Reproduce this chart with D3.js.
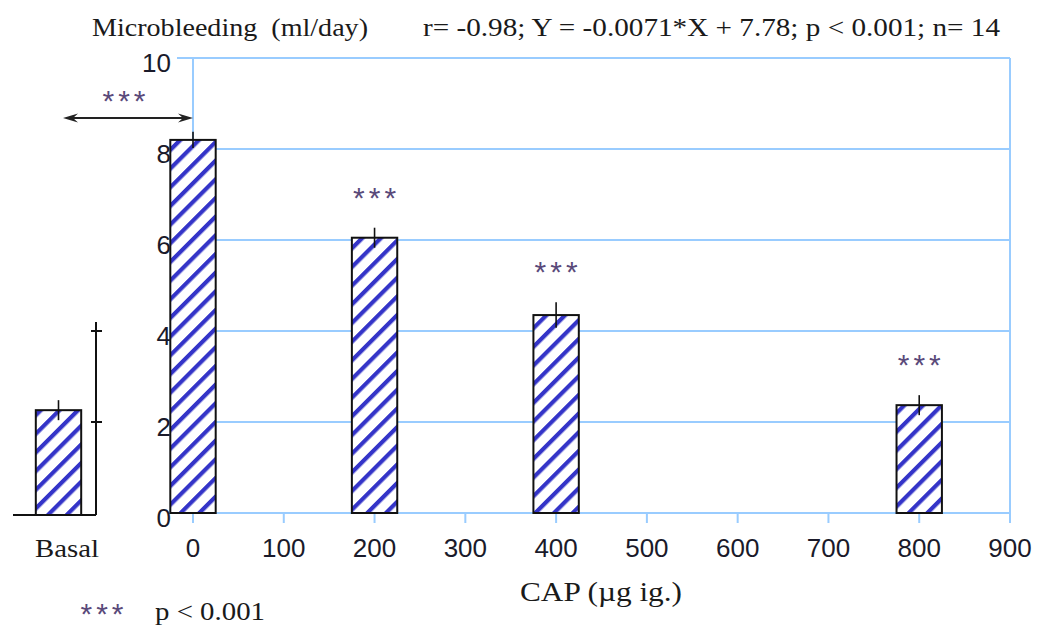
<!DOCTYPE html>
<html><head><meta charset="utf-8">
<script src="https://cdn.jsdelivr.net/npm/d3@7"></script>
<style>body{margin:0;background:#fff;} svg{display:block;}</style>
</head><body>
<svg id="chart" width="1042" height="633"></svg>
<script>
// ---- data ----
const doses = [0, 200, 400, 800];
const means = [8.2, 6.05, 4.35, 2.37];
const errs = [0.18, 0.22, 0.28, 0.22];
const signif = ["", "***", "***", "***"];
const basalLabel = "Basal";
const basalMean = 2.26;
const basalErr = 0.22;
const basalAxisTicks = [2, 4];
const xTicks = [0, 100, 200, 300, 400, 500, 600, 700, 800, 900];
const yTicks = [0, 2, 4, 6, 8, 10];
const titleLeft = "Microbleeding  (ml/day)";
const titleRight = "r= -0.98; Y = -0.0071*X + 7.78; p < 0.001; n= 14";
const xLabel = "CAP (\u00B5g ig.)";
const noteStars = "***";
const noteText = "p < 0.001";

// ---- layout ----
const svg = d3.select("#chart");
const x = d3.scaleLinear().domain([0, 900]).range([193, 1010]);
const y = d3.scaleLinear().domain([0, 10]).range([513, 58]);
const barW = x(25) - x(-25);
const basalCx = 58.5;
const grid = "#99ccff";
const stripe = "#3434c8";
const starCol = "#5a4a7a";
const serif = "'Liberation Serif','Times New Roman',serif";
const sans = "'Liberation Sans',Arial,sans-serif";

const defs = svg.append("defs");
const pat = defs.append("pattern").attr("id", "hatch")
  .attr("patternUnits", "userSpaceOnUse").attr("width", 13.2).attr("height", 13.2)
  .attr("patternTransform", "rotate(45)");
pat.append("rect").attr("width", 13.2).attr("height", 13.2).attr("fill", "#fff");
pat.append("rect").attr("x", 0).attr("width", 4.2).attr("height", 13.2).attr("fill", stripe);

// gridlines (incl. tick stubs to the left)
svg.append("g").selectAll("line").data(yTicks).join("line")
  .attr("x1", 177).attr("x2", x(900))
  .attr("y1", d => y(d)).attr("y2", d => y(d))
  .attr("stroke", grid).attr("stroke-width", 2);
// left and right border
svg.append("line").attr("x1", x(0)).attr("x2", x(0)).attr("y1", y(10)).attr("y2", y(0))
  .attr("stroke", grid).attr("stroke-width", 2);
svg.append("line").attr("x1", x(900)).attr("x2", x(900)).attr("y1", y(10)).attr("y2", y(0) + 10)
  .attr("stroke", grid).attr("stroke-width", 2);
// x ticks
svg.append("g").selectAll("line").data(xTicks).join("line")
  .attr("x1", d => x(d)).attr("x2", d => x(d)).attr("y1", y(0)).attr("y2", y(0) + 10)
  .attr("stroke", grid).attr("stroke-width", 2);

// bars
svg.append("g").selectAll("rect").data(doses).join("rect")
  .attr("x", d => x(d) - barW / 2).attr("width", barW)
  .attr("y", (d, i) => y(means[i])).attr("height", (d, i) => y(0) - y(means[i]))
  .attr("fill", "url(#hatch)").attr("stroke", "#111").attr("stroke-width", 2);
svg.append("g").selectAll("line").data(doses).join("line")
  .attr("x1", d => x(d)).attr("x2", d => x(d))
  .attr("y1", (d, i) => y(means[i] - errs[i])).attr("y2", (d, i) => y(means[i] + errs[i]))
  .attr("stroke", "#111").attr("stroke-width", 1.6);
svg.append("g").selectAll("text").data(doses).join("text")
  .attr("x", d => x(d) + 2).attr("y", (d, i) => y(means[i] + errs[i]) - 20)
  .attr("text-anchor", "middle").attr("font-family", sans).attr("font-size", 30)
  .attr("letter-spacing", 4).attr("fill", starCol)
  .text((d, i) => signif[i]);

// y tick labels
svg.append("g").selectAll("text").data(yTicks).join("text")
  .attr("x", 171).attr("y", d => y(d) + 14)
  .attr("text-anchor", "end").attr("font-family", sans).attr("font-size", 26)
  .attr("fill", "#1a1a2a").text(d => d);
// x tick labels
svg.append("g").selectAll("text").data(xTicks).join("text")
  .attr("x", d => x(d)).attr("y", 557)
  .attr("text-anchor", "middle").attr("font-family", sans).attr("font-size", 26)
  .attr("fill", "#1a1a2a").text(d => d);

// basal mini-panel
svg.append("line").attr("x1", 13).attr("x2", 96).attr("y1", y(0) + 2).attr("y2", y(0) + 2)
  .attr("stroke", "#111").attr("stroke-width", 2);
svg.append("line").attr("x1", 96).attr("x2", 96).attr("y1", y(0) + 2).attr("y2", y(4.2))
  .attr("stroke", "#111").attr("stroke-width", 2);
svg.append("g").selectAll("line").data(basalAxisTicks).join("line")
  .attr("x1", 91).attr("x2", 102).attr("y1", d => y(d)).attr("y2", d => y(d))
  .attr("stroke", "#111").attr("stroke-width", 2);
svg.append("rect").attr("x", basalCx - barW / 2).attr("width", barW)
  .attr("y", y(basalMean)).attr("height", y(0) + 2 - y(basalMean))
  .attr("fill", "url(#hatch)").attr("stroke", "#111").attr("stroke-width", 2);
svg.append("line").attr("x1", basalCx).attr("x2", basalCx)
  .attr("y1", y(basalMean - basalErr)).attr("y2", y(basalMean + basalErr))
  .attr("stroke", "#111").attr("stroke-width", 1.6);
svg.append("text").attr("x", 67).attr("y", 557).attr("text-anchor", "middle")
  .attr("font-family", serif).attr("font-size", 25).attr("fill", "#1a1a1a")
  .attr("textLength", 64).attr("lengthAdjust", "spacingAndGlyphs").text(basalLabel);

// double arrow basal vs 0
const ax0 = 63, ax1 = x(0), ay = 118;
svg.append("line").attr("x1", ax0 + 6).attr("x2", ax1 - 6).attr("y1", ay).attr("y2", ay)
  .attr("stroke", "#222").attr("stroke-width", 2);
svg.append("path")
  .attr("d", `M${ax0},${ay} L${ax0 + 15},${ay - 4.5} L${ax0 + 10},${ay} L${ax0 + 15},${ay + 4.5} Z`)
  .attr("fill", "#222");
svg.append("path")
  .attr("d", `M${ax1},${ay} L${ax1 - 15},${ay - 4.5} L${ax1 - 10},${ay} L${ax1 - 15},${ay + 4.5} Z`)
  .attr("fill", "#222");
svg.append("text").attr("x", 126).attr("y", 111).attr("text-anchor", "middle")
  .attr("font-family", sans).attr("font-size", 30).attr("letter-spacing", 4)
  .attr("fill", starCol).text("***");

// titles
svg.append("text").attr("x", 92).attr("y", 36).attr("font-family", serif).attr("font-size", 25)
  .attr("fill", "#1a1a1a").attr("textLength", 276).attr("lengthAdjust", "spacingAndGlyphs")
  .attr("xml:space", "preserve").style("white-space", "pre").text(titleLeft);
svg.append("text").attr("x", 423).attr("y", 36).attr("font-family", serif).attr("font-size", 25)
  .attr("fill", "#1a1a1a").attr("textLength", 577).attr("lengthAdjust", "spacingAndGlyphs")
  .text(titleRight);
svg.append("text").attr("x", 601).attr("y", 601).attr("text-anchor", "middle")
  .attr("font-family", serif).attr("font-size", 27).attr("fill", "#1a1a1a")
  .attr("textLength", 162).attr("lengthAdjust", "spacingAndGlyphs").text(xLabel);

// footnote
svg.append("text").attr("x", 104).attr("y", 624).attr("text-anchor", "middle")
  .attr("font-family", sans).attr("font-size", 30).attr("letter-spacing", 4)
  .attr("fill", starCol).text(noteStars);
svg.append("text").attr("x", 155).attr("y", 620).attr("font-family", serif).attr("font-size", 25)
  .attr("fill", "#1a1a1a").attr("textLength", 110).attr("lengthAdjust", "spacingAndGlyphs")
  .text(noteText);
</script>
</body></html>
